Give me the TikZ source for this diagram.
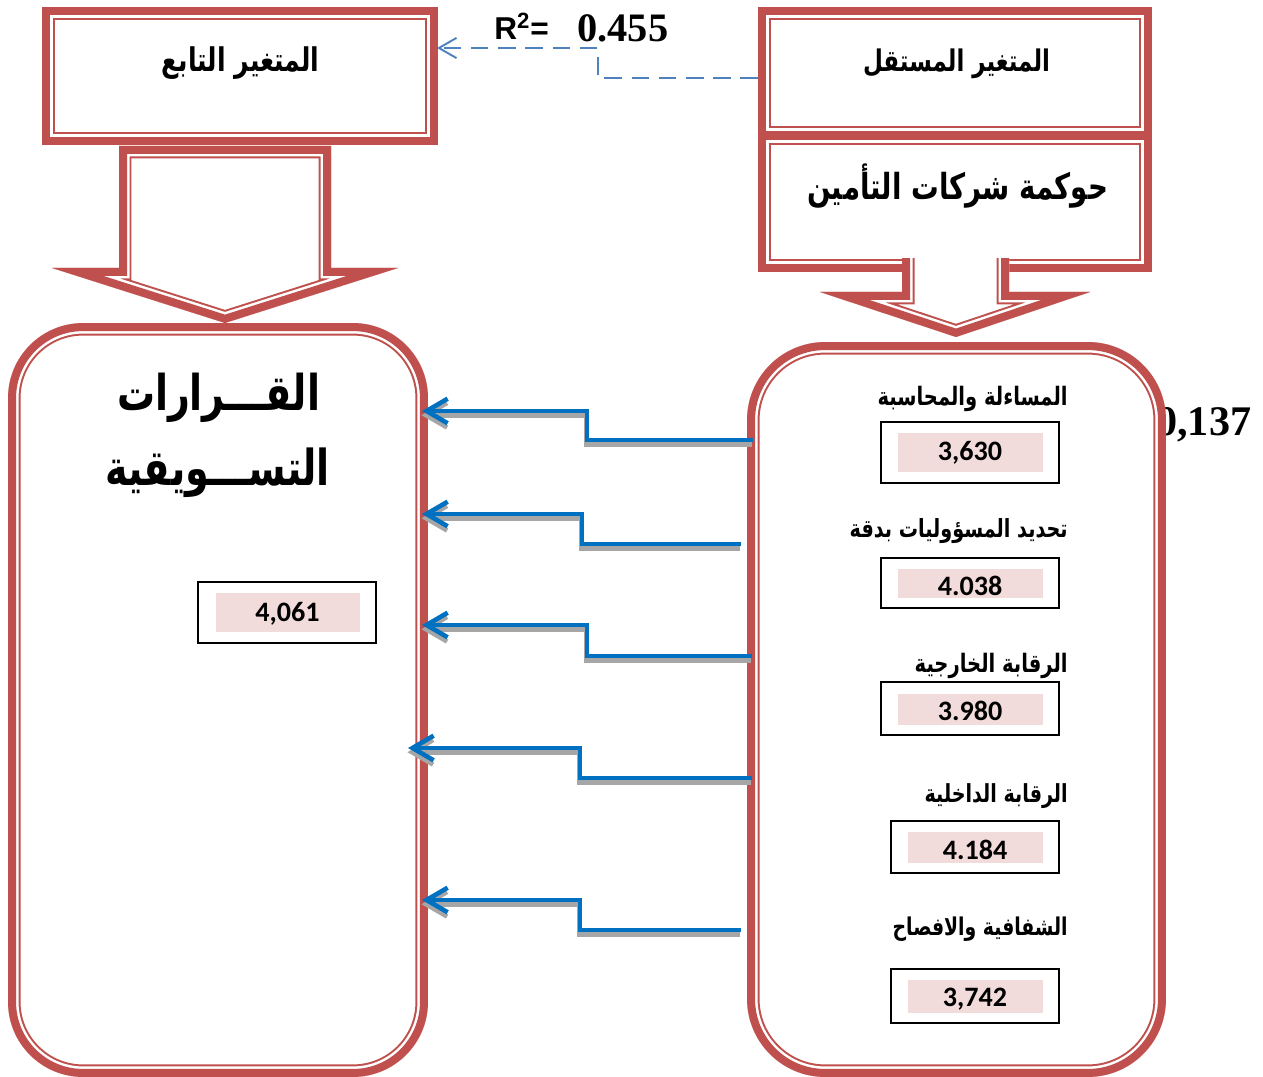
\documentclass[tikz,border=0pt]{standalone}
\usepackage{fontspec}
\usepackage{graphicx}
\usetikzlibrary{arrows.meta}
\TeXXeTstate=1
\newfontfamily\arabicfont[Script=Arabic]{DejaVu Sans}
\newfontfamily\numfont{Carlito}
\newfontfamily\serifnum{Liberation Serif}
\newfontfamily\sansnum{Liberation Sans}
\definecolor{boxred}{HTML}{C0504D}
\definecolor{pinkfill}{HTML}{F2DCDB}
\definecolor{arrowblue}{HTML}{0070C0}
\definecolor{dashblue}{HTML}{4F81BD}
\definecolor{shadowgray}{HTML}{A6A6A6}
\newlength\pxu
\setlength\pxu{0.02cm}
\newcommand\artxt[2]{\scalebox{1}[1.3]{\resizebox{#1\pxu}{!}{\arabicfont\bfseries #2}}}
\newcommand\dblshape[2]{%
  \begin{scope}
    \clip[#1] #2;
    \fill[white,#1] #2;
    \draw[boxred,line width=0.5cm,#1] #2;
    \draw[white,line width=0.42cm,#1] #2;
    \draw[boxred,line width=0.32cm,#1] #2;
  \end{scope}}
\begin{document}
\begin{tikzpicture}[x=0.02cm,y=-0.02cm,
  hold/.style={draw=none,inner sep=0pt,outer sep=0pt},
  valframe/.style={draw=black,line width=1.2pt,inner sep=0pt,fill=white},
  pinkrect/.style={fill=pinkfill,draw=none,inner sep=0pt},
  numtxt/.style={font=\numfont\bfseries\fontsize{16}{16}\selectfont,inner sep=0pt,text height=10.1pt,text depth=0pt},
  arlabel/.style={anchor=base east,inner sep=0pt},
  artitle/.style={anchor=base,inner sep=0pt},
  bluearr/.style={draw=arrowblue,line width=2.6pt,-{Straight Barb[length=12pt,width=14pt]}},
  bluesh/.style={draw=shadowgray,line width=2.6pt,-{Straight Barb[length=12pt,width=14pt]},transform canvas={xshift=-0.3pt,yshift=-2.4pt}},
  dashconn/.style={draw=dashblue,line width=1.1pt,dash pattern=on 10pt off 5.5pt,-{Straight Barb[length=10pt,width=11.5pt]}}]
\useasboundingbox (0,0) rectangle (1263,1077);

% holder nodes for the shapes
\node[hold,minimum width=7.92cm,minimum height=2.76cm] (dep) at (240,76) {};
\node[hold,minimum width=7.88cm,minimum height=2.64cm] (indep) at (955,73) {};
\node[hold,minimum width=7.88cm,minimum height=2.8cm] (gov) at (955,202) {};
\node[hold,minimum width=8.4cm,minimum height=15.08cm] (dv) at (218,700) {};
\node[hold,minimum width=8.38cm,minimum height=14.7cm] (iv) at (956.5,709.5) {};

% beta coefficient (partly hidden behind the box)
\node[anchor=base west,inner sep=0pt] (beta) at (1156,435) {\serifnum\bfseries\fontsize{24}{24}\selectfont 0,137};

% boxes
\dblshape{}{(dep.south west) rectangle (dep.north east)}
\dblshape{}{(indep.south west) rectangle (indep.north east)}
\dblshape{}{(gov.south west) rectangle (gov.north east)}
\dblshape{rounded corners=1.5cm}{(dv.south west) rectangle (dv.north east)}
\dblshape{rounded corners=1.56cm}{(iv.south west) rectangle (iv.north east)}

% block arrows
\dblshape{}{(119,146) -- (119,268) -- (52,268) -- (225,323) -- (398,268) -- (331,268) -- (331,146) -- cycle}
\begin{scope}
  \clip (0,259) rectangle (1263,1077);
  \dblshape{}{(902,240) -- (902,292) -- (820,292) -- (956,337) -- (1090,292) -- (1009,292) -- (1009,240) -- cycle}
\end{scope}

% titles
\node[artitle] (tdep) at (240.5,72) {\artxt{158}{\beginR المتغير التابع\endR}};
\node[artitle] (tindep) at (956.5,72) {\artxt{187}{\beginR المتغير المستقل\endR}};
\node[artitle] (tgov) at (957.5,200) {\artxt{301}{\beginR حوكمة شركات التأمين\endR}};
\node[artitle] (tdv1) at (218.5,410) {\artxt{203}{\beginR القـــرارات\endR}};
\node[artitle] (tdv2) at (217.5,485) {\artxt{225}{\beginR التســـويقية\endR}};

% R2
\node[anchor=base west,inner sep=0pt] (rlab) at (494,40) {\sansnum\bfseries\fontsize{18}{18}\selectfont R\textsuperscript{2}=};
\node[anchor=base west,inner sep=0pt] (rval) at (577,42) {\serifnum\bfseries\fontsize{23}{23}\selectfont 0.455};

% left value box
\node[valframe,minimum width=3.56cm,minimum height=1.22cm] (b0) at (287,612.5) {};
\node[pinkrect,minimum width=2.88cm,minimum height=0.78cm] (p0) at (288,612.5) {};
\node[numtxt] (n0) at (287.5,612.5) {4,061};

% right labels and value boxes
\node[arlabel] (l1) at (1068,405) {\artxt{190}{\beginR المساءلة والمحاسبة\endR}};
\node[valframe,minimum width=3.56cm,minimum height=1.22cm] (b1) at (970,452.5) {};
\node[pinkrect,minimum width=2.9cm,minimum height=0.78cm] (p1) at (970.5,452.5) {};
\node[numtxt] (n1) at (970,452) {3,630};

\node[arlabel] (l2) at (1068,537) {\artxt{218}{\beginR تحديد المسؤوليات بدقة\endR}};
\node[valframe,minimum width=3.56cm,minimum height=1.0cm] (b2) at (970,583) {};
\node[pinkrect,minimum width=2.9cm,minimum height=0.58cm] (p2) at (970.5,583.5) {};
\node[numtxt] (n2) at (970,587) {4.038};

\node[arlabel] (l3) at (1068,672) {\artxt{153}{\beginR الرقابة الخارجية\endR}};
\node[valframe,minimum width=3.56cm,minimum height=1.06cm] (b3) at (970,708.5) {};
\node[pinkrect,minimum width=2.9cm,minimum height=0.62cm] (p3) at (970.5,709.5) {};
\node[numtxt] (n3) at (970,711.5) {3.980};

\node[arlabel] (l4) at (1068,802) {\artxt{143}{\beginR الرقابة الداخلية\endR}};
\node[valframe,minimum width=3.36cm,minimum height=1.04cm] (b4) at (975,847) {};
\node[pinkrect,minimum width=2.7cm,minimum height=0.62cm] (p4) at (975.5,847.5) {};
\node[numtxt] (n4) at (975,851) {4.184};

\node[arlabel] (l5) at (1068,935) {\artxt{175}{\beginR الشفافية والافصاح\endR}};
\node[valframe,minimum width=3.36cm,minimum height=1.08cm] (b5) at (975,996) {};
\node[pinkrect,minimum width=2.7cm,minimum height=0.66cm] (p5) at (975.5,996.5) {};
\node[numtxt] (n5) at (975,997.5) {3,742};

% dashed connector
\coordinate (dsrc) at (758,78);
\coordinate (dtgt) at (437,48);
\draw[dashconn] (dsrc) -- ++(-160,0) |- (dtgt);

% blue connectors
\coordinate (s1) at (753,440); \coordinate (t1) at (422,411);
\coordinate (s2) at (741,544); \coordinate (t2) at (422,514);
\coordinate (s3) at (752,656); \coordinate (t3) at (422,625);
\coordinate (s4) at (752,778); \coordinate (t4) at (408,748);
\coordinate (s5) at (741,930); \coordinate (t5) at (422,900);

\draw[bluesh] (s1) -- ++(-166,0) |- (t1);
\draw[bluesh] (s2) -- ++(-159,0) |- (t2);
\draw[bluesh] (s3) -- ++(-165,0) |- (t3);
\draw[bluesh] (s4) -- ++(-172,0) |- (t4);
\draw[bluesh] (s5) -- ++(-161,0) |- (t5);

\draw[bluearr] (s1) -- ++(-166,0) |- (t1);
\draw[bluearr] (s2) -- ++(-159,0) |- (t2);
\draw[bluearr] (s3) -- ++(-165,0) |- (t3);
\draw[bluearr] (s4) -- ++(-172,0) |- (t4);
\draw[bluearr] (s5) -- ++(-161,0) |- (t5);
\end{tikzpicture}
\end{document}
